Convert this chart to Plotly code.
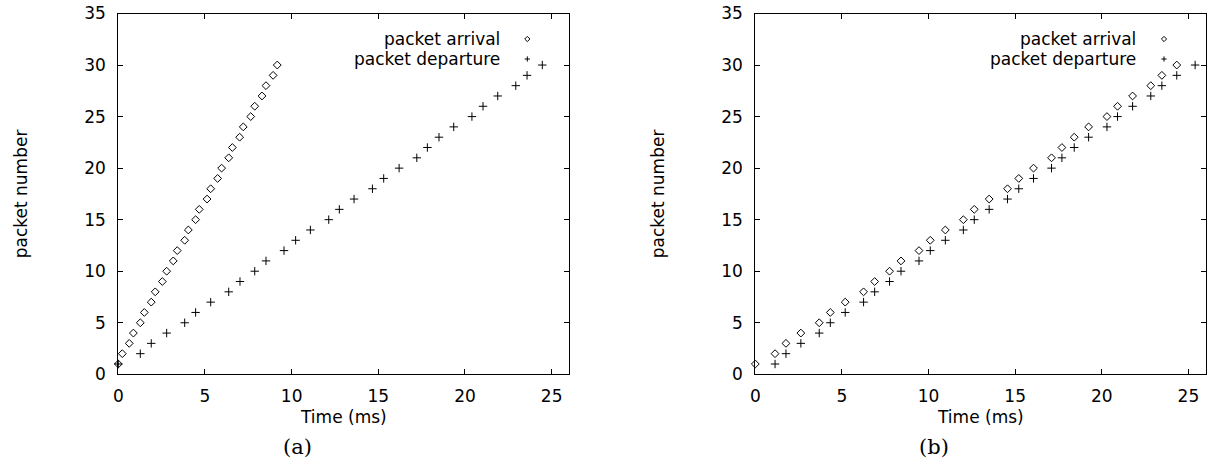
import plotly.graph_objects as go

W, H = 1207, 464

# ---------------- data ----------------
packet_number = list(range(1, 31))

a_arrival_ms = [0.00, 0.23, 0.63, 0.87, 1.27, 1.50, 1.90, 2.13, 2.54, 2.79,
                3.17, 3.40, 3.83, 4.04, 4.46, 4.67, 5.12, 5.33, 5.73, 5.96,
                6.37, 6.58, 7.00, 7.21, 7.64, 7.87, 8.29, 8.52, 8.93, 9.17]
a_departure_ms = [0.00, 1.27, 1.90, 2.79, 3.83, 4.46, 5.33, 6.37, 7.02, 7.87,
                  8.52, 9.56, 10.23, 11.08, 12.14, 12.75, 13.60, 14.66, 15.31, 16.20,
                  17.22, 17.83, 18.50, 19.35, 20.40, 21.04, 21.89, 22.93, 23.58, 24.46]

b_arrival_ms = [0.00, 1.14, 1.77, 2.63, 3.69, 4.33, 5.19, 6.25, 6.89, 7.75,
                8.41, 9.45, 10.10, 10.97, 12.01, 12.64, 13.50, 14.56, 15.21, 16.06,
                17.10, 17.70, 18.41, 19.24, 20.30, 20.91, 21.78, 22.83, 23.47, 24.33]
b_departure_ms = [1.14, 1.77, 2.63, 3.69, 4.33, 5.19, 6.25, 6.89, 7.75, 8.41,
                  9.45, 10.10, 10.97, 12.01, 12.64, 13.50, 14.56, 15.21, 16.06, 17.10,
                  17.70, 18.41, 19.24, 20.30, 20.91, 21.78, 22.83, 23.47, 24.33, 25.39]

x_ticks = [0, 5, 10, 15, 20, 25]
y_ticks = [0, 5, 10, 15, 20, 25, 30, 35]
series_names = ["packet arrival", "packet departure"]
x_title = "Time (ms)"
y_title = "packet number"
panel_labels = ["(a)", "(b)"]

# ---------------- layout helpers ----------------
def px_x(p):
    return p / W

def px_y(p):
    return 1 - p / H

SANS = "DejaVu Sans"
FS = 17

panels = [
    dict(xa="x", ya="y", left=118.3, right=569.0,
         arr=a_arrival_ms, dep=a_departure_ms, label=panel_labels[0]),
    dict(xa="x2", ya="y2", left=755.3, right=1205.7,
         arr=b_arrival_ms, dep=b_departure_ms, label=panel_labels[1]),
]
top_px, bottom_px = 13.5, 374.3

fig = go.Figure()
annotations = []
shapes = []

for i, p in enumerate(panels):
    fig.add_trace(go.Scatter(
        x=p["arr"], y=packet_number, mode="markers", name=series_names[0],
        xaxis=p["xa"], yaxis=p["ya"], showlegend=False, cliponaxis=False,
        marker=dict(symbol="diamond-open", size=6, color="black",
                    line=dict(width=1, color="black"))))
    fig.add_trace(go.Scatter(
        x=p["dep"], y=packet_number, mode="markers", name=series_names[1],
        xaxis=p["xa"], yaxis=p["ya"], showlegend=False, cliponaxis=False,
        marker=dict(symbol="cross-thin-open", size=6, color="black",
                    line=dict(width=1, color="black"))))

    axis_common = dict(showline=True, linecolor="black", linewidth=1,
                       mirror="allticks", ticks="inside", ticklen=5,
                       tickcolor="black", tickwidth=1, showgrid=False,
                       zeroline=False, automargin=False,
                       tickfont=dict(family=SANS, size=FS, color="black"))
    xkey = "xaxis" if i == 0 else "xaxis2"
    ykey = "yaxis" if i == 0 else "yaxis2"
    fig.update_layout(**{
        xkey: dict(domain=[px_x(p["left"]), px_x(p["right"])],
                   range=[0, 26], tickvals=x_ticks, anchor=p["ya"],
                   ticklabelstandoff=6, **axis_common),
        ykey: dict(domain=[px_y(bottom_px), px_y(top_px)],
                   range=[0, 35], tickvals=y_ticks, anchor=p["xa"],
                   ticklabelstandoff=8, **axis_common),
    })

    cx = (p["left"] + p["right"]) / 2
    # x title
    annotations.append(dict(text=x_title, x=px_x(cx), y=px_y(417),
                            xref="paper", yref="paper", showarrow=False,
                            xanchor="center", yanchor="middle",
                            font=dict(family=SANS, size=FS, color="black")))
    # y title
    annotations.append(dict(text=y_title, x=px_x(p["left"] - 97), y=px_y(194),
                            xref="paper", yref="paper", showarrow=False,
                            textangle=-90, xanchor="center", yanchor="middle",
                            font=dict(family=SANS, size=FS, color="black")))
    # panel label
    annotations.append(dict(text=p["label"], x=px_x(p["left"] + 179), y=px_y(447),
                            xref="paper", yref="paper", showarrow=False,
                            xanchor="center", yanchor="middle",
                            font=dict(family="DejaVu Serif", size=21, color="black")))

    # legend (text right-aligned, key symbol to the right)
    text_right = p["right"] - 67.3
    sym_x = p["right"] - 41.7
    for j, (name, ly) in enumerate(zip(series_names, [39, 59])):
        annotations.append(dict(text=name, x=px_x(text_right), y=px_y(ly),
                                xref="paper", yref="paper", showarrow=False,
                                xanchor="right", yanchor="middle",
                                font=dict(family=SANS, size=FS, color="black")))
        h = 2.6
        if j == 0:
            path = (f"M {px_x(sym_x)},{px_y(ly - h)} L {px_x(sym_x + h)},{px_y(ly)} "
                    f"L {px_x(sym_x)},{px_y(ly + h)} L {px_x(sym_x - h)},{px_y(ly)} Z")
        else:
            path = (f"M {px_x(sym_x - h)},{px_y(ly)} L {px_x(sym_x + h)},{px_y(ly)} "
                    f"M {px_x(sym_x)},{px_y(ly - h)} L {px_x(sym_x)},{px_y(ly + h)}")
        shapes.append(dict(type="path", path=path, xref="paper", yref="paper",
                           line=dict(color="black", width=1)))

fig.update_layout(
    width=W, height=H,
    margin=dict(l=0, r=0, t=0, b=0, autoexpand=False),
    paper_bgcolor="white", plot_bgcolor="white",
    annotations=annotations, shapes=shapes,
    showlegend=False,
)

fig.write_html("out.html")
